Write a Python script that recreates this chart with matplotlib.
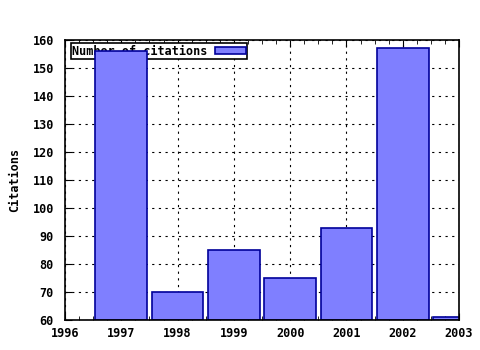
import numpy as np
import matplotlib
matplotlib.use("Agg")
import matplotlib.pyplot as plt
from matplotlib.ticker import MultipleLocator

years = [1997, 1998, 1999, 2000, 2001, 2002, 2003]
citations = [156, 70, 85, 75, 93, 157, 61]
xticks = [1996, 1997, 1998, 1999, 2000, 2001, 2002, 2003]
yticks = [60, 70, 80, 90, 100, 110, 120, 130, 140, 150, 160]

plt.rcParams['font.family'] = ['DejaVu Sans Mono']
plt.rcParams['font.weight'] = 'bold'
plt.rcParams['axes.labelweight'] = 'bold'
plt.rcParams['font.size'] = 8.5

fig = plt.figure(figsize=(4.8, 3.5), dpi=100)
ax = fig.add_axes([65/480, 30/350, (459-65)/480, (320-40)/350])

bars = ax.bar(years, [c - 60 for c in citations], bottom=60, width=0.92,
              color='#7f7fff', edgecolor='#00009a', linewidth=1.2,
              label='Number of citations', zorder=3)

ax.set_xlim(1996, 2003)
ax.set_ylim(60, 160)
ax.set_xticks(xticks)
ax.set_yticks(yticks)
ax.set_xticklabels([str(x) for x in xticks], fontweight='bold')
ax.set_yticklabels([str(y) for y in yticks], fontweight='bold')
ax.xaxis.set_minor_locator(MultipleLocator(0.25))
ax.tick_params(axis='both', which='both', direction='in', top=True, right=False)
ax.tick_params(axis='x', which='major', length=5, pad=5)
ax.tick_params(axis='x', which='minor', length=3)
ax.tick_params(axis='y', which='major', length=5, pad=8)
ax.grid(True, color='black', linestyle=(0, (2, 4)), linewidth=0.8, zorder=0)
ax.set_axisbelow(True)
for s in ax.spines.values():
    s.set_linewidth(1.2)
    s.set_zorder(5)

ax.set_ylabel('Citations', labelpad=8, fontweight='bold')

leg = ax.legend(loc='upper left', bbox_to_anchor=(0.016, 0.988), markerfirst=False,
                frameon=True, fancybox=False, edgecolor='black', framealpha=1,
                handlelength=2.6, handleheight=0.45, borderpad=0.1,
                handletextpad=0.6, borderaxespad=0, prop={'weight': 'bold'})
leg.get_frame().set_linewidth(1.2)
leg.set_zorder(2)

fig.savefig('out.png', dpi=100)
